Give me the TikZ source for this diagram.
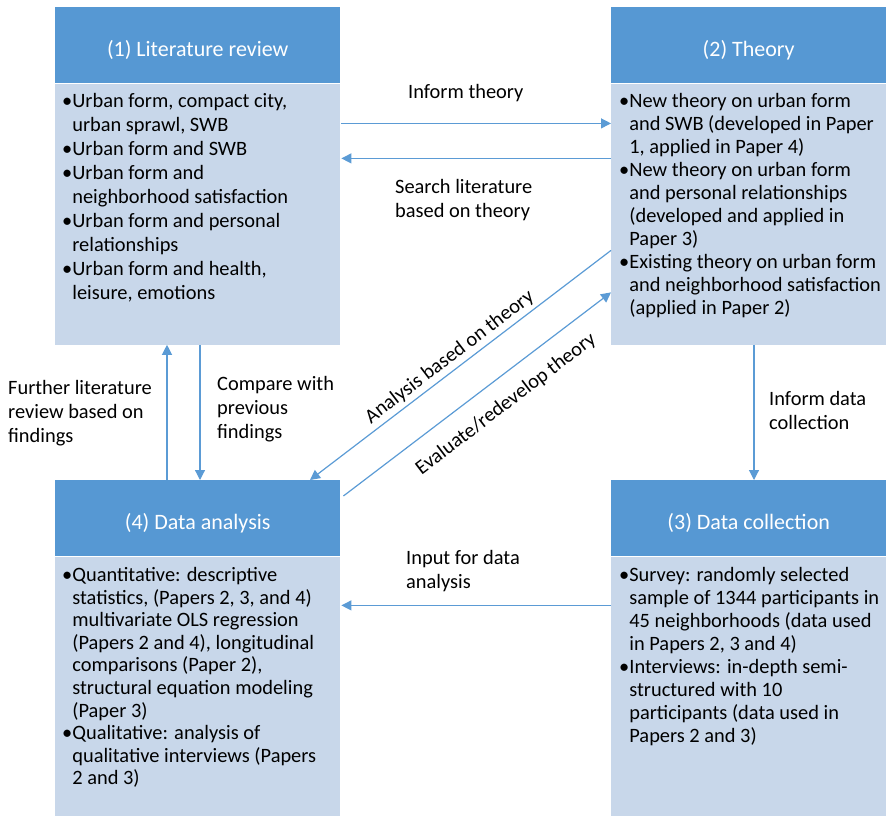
\documentclass[tikz,border=0pt]{standalone}
\usepackage{fontspec}
\setmainfont{Carlito}
\usetikzlibrary{arrows.meta,positioning}
\definecolor{boxHead}{RGB}{86,152,211}
\definecolor{boxBody}{RGB}{200,215,234}
\definecolor{flowBlue}{RGB}{91,155,213}
\newcommand{\bul}{\textbullet}
\newcommand{\ind}{\hphantom{\textbullet}}
\newcommand{\lines}[1]{\begin{tabular}[t]{@{}l@{}}#1\end{tabular}}

\begin{document}
\begin{tikzpicture}[x=1pt,y=-1pt,
  head/.style={fill=boxHead, text=white, anchor=north west, inner sep=0pt,
    minimum height=76pt, text height=22pt, text depth=0pt,
    font=\fontsize{22}{26}\selectfont},
  body/.style={fill=boxBody, anchor=north west, inner sep=0pt},
  items/.style={anchor=base west, inner sep=0pt, font=\fontsize{20.4}{24}\selectfont},
  itemsmid/.style={items, font=\fontsize{20.4}{23}\selectfont},
  itemslow/.style={items, font=\fontsize{20.4}{22.6}\selectfont},
  lbl/.style={anchor=base west, inner sep=0pt, font=\fontsize{20.4}{24}\selectfont},
  flow/.style={draw=flowBlue, line width=1.2pt, -{Triangle[length=10pt,width=10pt]}}]
\useasboundingbox (0,0) rectangle (886,816);

% the four boxes
\foreach \nm/\x/\y/\w/\bh/\ttl in {lit/55/7/285/261/{(1) Literature review},
  theory/611/7/275/261/{(2) Theory},
  analysis/55/480/285/260/{(4) Data analysis},
  collect/611/480/275/260/{(3) Data collection}}
{
  \node[head, minimum width=\w pt] (\nm-head) at (\x,\y) {\ttl};
  \node[body, minimum width=\w pt, minimum height=\bh pt] (\nm-body) at (\nm-head.south west) {};
}

\node[items] (lit-text) at ([shift={(7,24)}]lit-body.north west) {\lines{
  \bul Urban form, compact city,\\
  \ind urban sprawl, SWB\\
  \bul Urban form and SWB\\
  \bul Urban form and\\
  \ind neighborhood satisfaction\\
  \bul Urban form and personal\\
  \ind relationships\\
  \bul Urban form and health,\\
  \ind leisure, emotions}};
\node[itemsmid] (theory-text) at ([shift={(8,24)}]theory-body.north west) {\lines{
  \bul New theory on urban form\\
  \ind and SWB (developed in Paper\\
  \ind 1, applied in Paper 4)\\
  \bul New theory on urban form\\
  \ind and personal relationships\\
  \ind (developed and applied in\\
  \ind Paper 3)\\
  \bul Existing theory on urban form\\
  \ind and neighborhood satisfaction\\
  \ind (applied in Paper 2)}};
\node[itemslow] (analysis-text) at ([shift={(7,25)}]analysis-body.north west) {\lines{
  \bul Quantitative: descriptive\\
  \ind statistics, (Papers 2, 3, and 4)\\
  \ind multivariate OLS regression\\
  \ind (Papers 2 and 4), longitudinal\\
  \ind comparisons (Paper 2),\\
  \ind structural equation modeling\\
  \ind (Paper 3)\\
  \bul Qualitative: analysis of\\
  \ind qualitative interviews (Papers\\
  \ind 2 and 3)}};
\node[itemsmid] (collect-text) at ([shift={(8,25)}]collect-body.north west) {\lines{
  \bul Survey: randomly selected\\
  \ind sample of 1344 participants in\\
  \ind 45 neighborhoods (data used\\
  \ind in Papers 2, 3 and 4)\\
  \bul Interviews: in-depth semi-\\
  \ind structured with 10\\
  \ind participants (data used in\\
  \ind Papers 2 and 3)}};

% connectors
\draw[flow] ([shift={(1,40)}]lit-body.north east) -- ([shift={(0,40)}]theory-body.north west);
\draw[flow] ([shift={(0,75)}]theory-body.north west) -- ([shift={(1,75)}]lit-body.north east);
\draw[flow] ([shift={(145,0)}]lit-body.south west) -- ([shift={(145,0)}]analysis-head.north west);
\draw[flow] ([shift={(112,0)}]analysis-head.north west) -- ([shift={(112,0)}]lit-body.south west);
\draw[flow] ([shift={(143,0)}]theory-body.south west) -- ([shift={(143,0)}]collect-head.north west);
\draw[flow] ([shift={(0,49)}]collect-body.north west) -- ([shift={(1,49)}]analysis-body.north east);
\draw[flow] ([shift={(0,167)}]theory-body.north west) -- ([shift={(255,0)}]analysis-head.north west)
  node[pos=0.51, sloped, above=3.5pt, inner sep=0pt, font=\fontsize{20.4}{24}\selectfont] (l-analysis) {Analysis based on theory};
\draw[flow] ([shift={(3,16)}]analysis-head.north east) -- ([shift={(0,209)}]theory-body.north west)
  node[pos=0.55, sloped, below=16pt, inner sep=0pt, font=\fontsize{20.4}{24}\selectfont] (l-evaluate) {Evaluate/redevelop theory};

% connector labels
\node[lbl] (l-inform) at (408,98.5) {Inform theory};
\node[lbl] (l-search) at (395,193) {\lines{Search literature\\based on theory}};
\node[lbl] (l-further) at (8,394) {\lines{Further literature\\review based on\\findings}};
\node[lbl] (l-compare) at (217,390) {\lines{Compare with\\previous\\findings}};
\node[lbl] (l-collect) at (769,405) {\lines{Inform data\\collection}};
\node[lbl] (l-input) at (406,564) {\lines{Input for data\\analysis}};
\end{tikzpicture}
\end{document}
